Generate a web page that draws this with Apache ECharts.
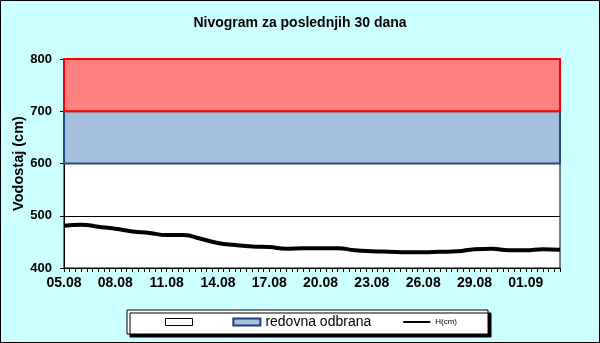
<!DOCTYPE html>
<html>
<head>
<meta charset="utf-8">
<script src="https://cdn.jsdelivr.net/npm/echarts@6/dist/echarts.min.js"></script>
<style>
  html, body { margin: 0; padding: 0; }
  #chart { width: 600px; height: 343px; }
</style>
</head>
<body>
<div id="chart"></div>
<script>
// dani na x osi (jedan podatak po danu)
var days = ['05.08', '06.08', '07.08', '08.08', '09.08', '10.08', '11.08', '12.08', '13.08', '14.08',
            '15.08', '16.08', '17.08', '18.08', '19.08', '20.08', '21.08', '22.08', '23.08', '24.08',
            '25.08', '26.08', '27.08', '28.08', '29.08', '30.08', '31.08', '01.09', '02.09', '03.09'];
// vodostaj H(cm)
var levels = [481, 483, 479, 475, 470, 467, 463, 463, 456, 448,
              444, 441, 440, 437, 438, 438, 438, 434, 432, 431,
              430, 430, 431, 432, 436, 437, 434, 434, 436, 435];
// granice odbrane
var redovna = [600, 700];
var vanredna = [700, 800];

var font = 'Liberation Sans, Arial, sans-serif';

var option = {
    backgroundColor: '#CCFFFF',
    animation: false,
    title: {
        text: 'Nivogram za poslednjih 30 dana',
        left: 'center',
        top: 11,
        textStyle: { fontFamily: font, fontSize: 14, fontWeight: 'bold', color: '#000' }
    },
    graphic: [
        {
            type: 'rect',
            shape: { x: 0.5, y: 0.5, width: 599, height: 342 },
            style: { fill: 'none', stroke: '#000', lineWidth: 1 },
            z: 100
        }
    ],
    legend: {
        left: 127,
        top: 310,
        padding: [5, 31, 5, 38],
        itemGap: 31,
        itemWidth: 27,
        itemHeight: 7,
        backgroundColor: '#fff',
        borderColor: '#000',
        borderWidth: 1,
        borderRadius: 0,
        shadowColor: '#000',
        shadowBlur: 0,
        shadowOffsetX: 3,
        shadowOffsetY: 3,
        textStyle: { fontFamily: font, fontSize: 14, color: '#000' },
        data: [
            { name: ' ', icon: 'rect', itemStyle: { color: '#fff', borderColor: '#000', borderWidth: 1 } },
            { name: 'redovna odbrana', icon: 'rect', itemStyle: { color: '#A6BFDC', borderColor: '#1F3F7A', borderWidth: 2 } },
            { name: 'H(cm)', itemStyle: { opacity: 0 }, lineStyle: { width: 2 }, textStyle: { fontSize: 8 } }
        ]
    },
    grid: {
        left: 64,
        right: 40,
        top: 59,
        bottom: 75,
        outerBoundsMode: 'none',
        show: true,
        backgroundColor: '#fff',
        borderColor: '#000',
        borderWidth: 1
    },
    xAxis: {
        type: 'value',
        min: 0,
        max: days.length - 1,
        interval: 1,
        axisLine: { lineStyle: { color: '#000', width: 1 } },
        axisTick: { length: 4, lineStyle: { color: '#000' } },
        minorTick: { show: true, splitNumber: 3, length: 4, lineStyle: { color: '#000' } },
        splitLine: { show: false },
        axisLabel: {
            margin: 8,
            fontFamily: font,
            fontSize: 14,
            fontWeight: 'bold',
            color: '#000',
            formatter: function (v) { return v % 3 === 0 ? days[v] : ''; }
        }
    },
    yAxis: {
        type: 'value',
        min: 400,
        max: 800,
        interval: 100,
        name: 'Vodostaj (cm)',
        nameLocation: 'middle',
        nameGap: 38,
        nameMoveOverlap: false,
        nameTextStyle: { fontFamily: font, fontSize: 14.5, fontWeight: 'bold', color: '#000' },
        axisLine: { show: true, lineStyle: { color: '#000' } },
        axisTick: { show: true, length: 4, lineStyle: { color: '#000' } },
        splitLine: { show: true, lineStyle: { color: '#000', width: 1 } },
        axisLabel: { margin: 12, fontFamily: font, fontSize: 13, fontWeight: 'bold', color: '#000' }
    },
    series: [
        {
            name: ' ',
            type: 'line',
            data: [],
            itemStyle: { color: '#fff' }
        },
        {
            name: 'redovna odbrana',
            type: 'line',
            data: [],
            itemStyle: { color: '#A6BFDC' },
            markArea: {
                silent: true,
                data: [
                    [
                        { yAxis: redovna[0], itemStyle: { color: '#A6BFDC', borderColor: '#1F4A82', borderWidth: 2 } },
                        { yAxis: redovna[1] }
                    ],
                    [
                        { yAxis: vanredna[0], itemStyle: { color: '#FF8080', borderColor: '#FF0000', borderWidth: 2 } },
                        { yAxis: vanredna[1] }
                    ]
                ]
            }
        },
        {
            name: 'H(cm)',
            type: 'line',
            smooth: true,
            symbol: 'none',
            z: 5,
            lineStyle: { color: '#000', width: 4 },
            itemStyle: { color: '#000' },
            data: levels.map(function (v, i) { return [i, v]; })
        }
    ]
};

var myChart = echarts.init(document.getElementById('chart'));
myChart.setOption(option);
</script>
</body>
</html>
